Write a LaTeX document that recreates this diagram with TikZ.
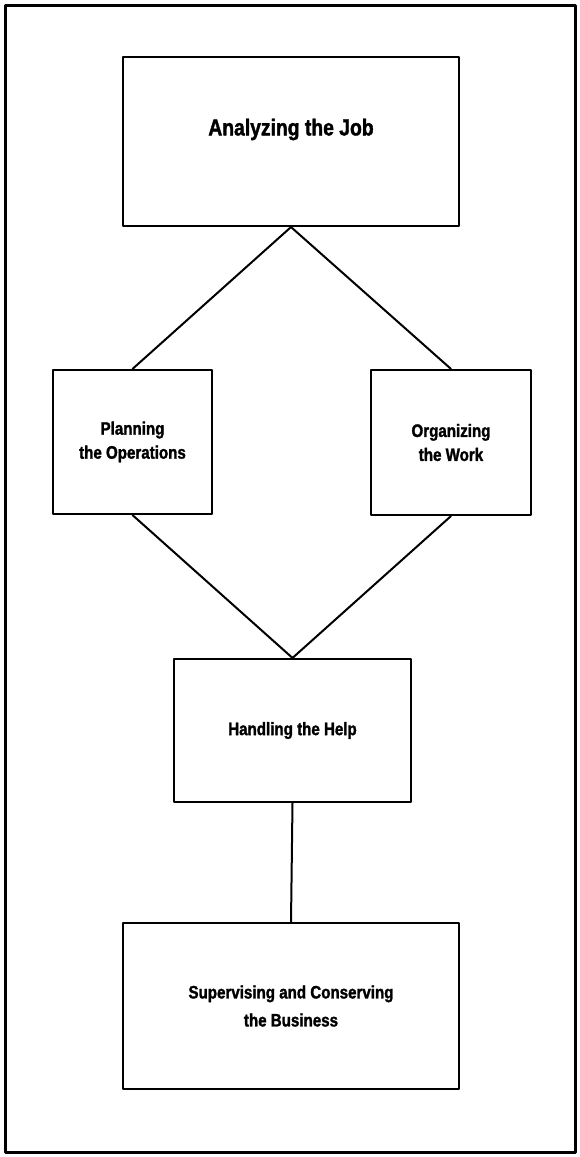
\documentclass[tikz,border=0pt]{standalone}
\usepackage{fontspec}
\newfontfamily\chartfont{Liberation Sans}[FakeStretch=0.84,BoldFeatures={FakeBold=1.6}]
\begin{document}
\begin{tikzpicture}[line join=round, line cap=round, x=1pt, y=-1pt, line width=2.1pt]
			\tikzset{box/.style={draw, rectangle, inner sep=0pt, align=center, font=\chartfont\bfseries\fontsize{18}{24}\selectfont},
				link/.style={line width=2pt}}
			\useasboundingbox (0,0) rectangle (579,1157);
			\draw[line width=3pt] (5,5) rectangle (575,1152);
			% the five boxes
			\node[box, minimum width=336pt, minimum height=169pt, label={[yshift=12pt, font=\chartfont\bfseries\fontsize{23}{28}\selectfont]center:Analyzing the Job}] (job) at (291,141.5) {};
			\node[box, minimum width=159pt, minimum height=144pt] (plan) at (132.5,442) {Planning\\the Operations};
			\node[box, minimum width=160pt, minimum height=145pt] (work) at (451,442.5) {Organizing\\the Work};
			\node[box, minimum width=237pt, minimum height=143pt] (help) at (292.5,730.5) {Handling the Help};
			\node[box, minimum width=336pt, minimum height=166pt] (business) at (291,1006) {Supervising and Conserving\\[4pt]the Business};
			% connectors
			\draw[link] (job.south)--(plan.north) (job.south)--(work.north);
			\draw[link] (plan.south)--(help.north) (work.south)--(help.north);
			\draw[link] (help.south)--(business.north);
		\end{tikzpicture}
\end{document}
